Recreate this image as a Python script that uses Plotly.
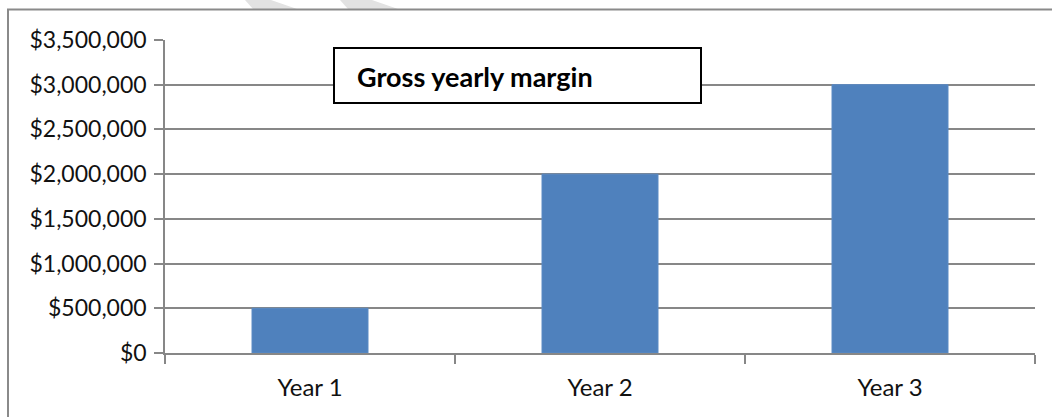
import plotly.graph_objects as go

# Chart data
categories = ["Year 1", "Year 2", "Year 3"]
margin_values = [500000, 2000000, 3000000]
y_ticks = [0, 500000, 1000000, 1500000, 2000000, 2500000, 3000000, 3500000]
y_tick_labels = ["$0", "$500,000", "$1,000,000", "$1,500,000",
                 "$2,000,000", "$2,500,000", "$3,000,000", "$3,500,000"]
chart_title = "Gross yearly margin"

W, H = 1052, 417
L, R, T, B = 165, 17, 40, 64
PW, PH = W - L - R, H - T - B


def px(x):
    return (x - L) / PW


def py(y):
    return (H - B - y) / PH


GRID = "#878787"
FONT = "Lato, Open Sans, sans-serif"
TEXT = "#111111"

fig = go.Figure(
    go.Bar(
        x=categories,
        y=margin_values,
        marker=dict(color="#4F81BD", line=dict(color="#5a8ac4", width=1)),
    )
)

shapes = []
# faint diagonal stripes along the top edge
for x0, w in ((245, 26), (340, 32)):
    shapes.append(dict(
        type="path", xref="paper", yref="paper", layer="below",
        path=f"M {px(x0)},{py(0)} L {px(x0 + w)},{py(0)} L {px(x0 + w + 26)},{py(9)} L {px(x0 + 8)},{py(9)} Z",
        fillcolor="#e2e2e2", line=dict(width=0),
    ))
# outer chart frame
shapes.append(dict(
    type="rect", xref="paper", yref="paper",
    x0=px(8), x1=px(1080), y0=py(9.5), y1=py(440),
    line=dict(color="#8a8a8a", width=2), fillcolor="rgba(0,0,0,0)",
))
# title box
shapes.append(dict(
    type="rect", xref="paper", yref="paper",
    x0=px(334), x1=px(701), y0=py(103), y1=py(48),
    line=dict(color="#000000", width=2), fillcolor="#ffffff",
))

fig.update_layout(
    width=W, height=H,
    margin=dict(l=L, r=R, t=T, b=B, pad=0),
    paper_bgcolor="white", plot_bgcolor="white",
    bargap=0.6,
    showlegend=False,
    shapes=shapes,
    annotations=[dict(
        text=f"<b>{chart_title}</b>", xref="paper", yref="paper",
        x=px(355), y=py(76), xanchor="left", yanchor="middle",
        showarrow=False, font=dict(family=FONT, size=27, color="#000000"),
    )],
    font=dict(family=FONT, size=23, color=TEXT),
)

fig.update_xaxes(
    type="category",
    showgrid=False,
    showline=True, linecolor=GRID, linewidth=1.5,
    ticks="outside", tickson="boundaries", ticklen=9, tickcolor=GRID, tickwidth=1.5,
    ticklabelstandoff=12,
    tickfont=dict(family=FONT, size=24, color=TEXT),
)
fig.update_yaxes(
    range=[0, 3500000],
    tickmode="array", tickvals=y_ticks, ticktext=y_tick_labels,
    showgrid=True, gridcolor=GRID, gridwidth=1.5,
    zeroline=False,
    showline=True, linecolor=GRID, linewidth=1.5,
    ticks="outside", ticklen=9, tickcolor=GRID, tickwidth=1.5,
    ticklabelstandoff=3,
    tickfont=dict(family=FONT, size=23, color=TEXT),
)

fig.write_html("out.html")
